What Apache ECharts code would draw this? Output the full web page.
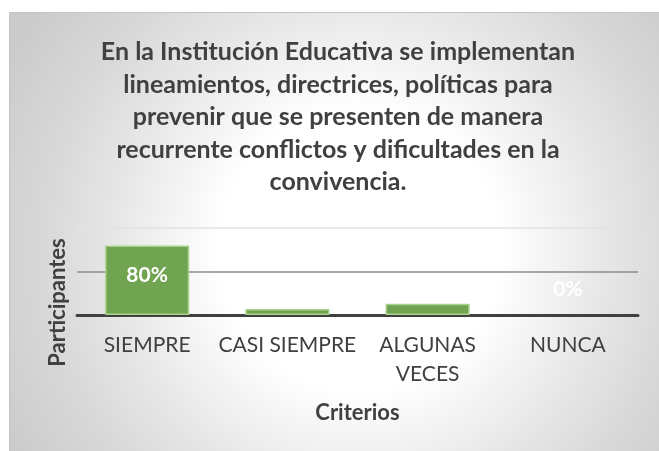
<!DOCTYPE html>
<html>
<head>
<meta charset="utf-8">
<script src="https://cdn.jsdelivr.net/npm/echarts@6/dist/echarts.min.js"></script>
<style>
html,body{margin:0;padding:0;background:#fff;}
#chart{width:659px;height:451px;}
</style>
</head>
<body>
<div id="chart"></div>
<script>
// datos
var titulo = "En la Institución Educativa se implementan\nlineamientos, directrices, políticas para\nprevenir que se presenten de manera\nrecurrente conflictos y dificultades en la\nconvivencia.";
var categorias = ["SIEMPRE", "CASI SIEMPRE", "ALGUNAS VECES", "NUNCA"];
var valores = [0.80, 0.07, 0.13, 0];
var yTicks = [0, 0.5, 1];

var fuente = "Lato, 'Open Sans', sans-serif";
var gris = "#404040";

// etiquetas: solo se ven en SIEMPRE y NUNCA
var etiquetas = [
	{ show: true, position: "inside", offset: [0, -5] },
	{ show: false },
	{ show: false },
	{ show: true, position: "top", distance: 15 }
];

var chart = echarts.init(document.getElementById("chart"));

chart.setOption({
	animation: false,
	graphic: [{
		type: "rect",
		silent: true,
		z: -10,
		shape: { x: 9.5, y: 12.5, width: 700, height: 500 },
		style: {
			fill: {
				type: "radial", x: 360, y: 250, r: 400, global: true,
				colorStops: [
					{ offset: 0, color: "#ffffff" },
					{ offset: 0.35, color: "#ffffff" },
					{ offset: 0.6, color: "#e8e8e8" },
					{ offset: 0.78, color: "#d9d9d9" },
					{ offset: 1, color: "#cbcbcb" }
				]
			},
			stroke: "#c4c4c4",
			lineWidth: 1
		}
	}],
	title: {
		text: titulo,
		left: 338,
		top: 36,
		padding: 0,
		textAlign: "center",
		textStyle: {
			fontFamily: fuente,
			fontSize: 25,
			fontWeight: "bold",
			color: gris,
			lineHeight: 32.5
		}
	},
	grid: { left: 77, right: 21, top: 228, bottom: 136, containLabel: false },
	xAxis: {
		type: "category",
		data: categorias,
		name: "Criterios",
		nameLocation: "middle",
		nameGap: 86,
		nameTextStyle: { fontFamily: fuente, fontSize: 22, fontWeight: "bold", color: gris, lineHeight: 24 },
		axisLine: { lineStyle: { color: "#404040", width: 3 } },
		axisTick: { show: false },
		axisLabel: {
			interval: 0,
			margin: 16,
			fontFamily: fuente,
			fontSize: 21,
			color: gris,
			lineHeight: 29,
			formatter: function (v) { return v.replace("ALGUNAS ", "ALGUNAS\n"); }
		}
	},
	yAxis: {
		type: "value",
		min: yTicks[0],
		max: yTicks[yTicks.length - 1],
		interval: yTicks[1] - yTicks[0],
		name: "Participantes",
		nameLocation: "middle",
		nameGap: 8,
		nameTextStyle: { fontFamily: fuente, fontSize: 22, fontWeight: "bold", color: gris, lineHeight: 22, padding: [0, 62, 0, 0] },
		axisLine: { show: false },
		axisTick: { show: false },
		axisLabel: { show: false },
		splitLine: { lineStyle: { color: ["#404040", "#8c8c8c", "#e2e2e2"], width: 1.5 } }
	},
	series: [{
		type: "bar",
		barWidth: "60%",
		data: valores.map(function (v, i) {
			return { value: v, label: etiquetas[i], itemStyle: v === 0 ? { borderWidth: 0 } : undefined };
		}),
		itemStyle: { color: "#70a451", borderColor: "#a9d18e", borderWidth: 1.5 },
		label: {
			fontFamily: fuente,
			fontSize: 21,
			fontWeight: "bold",
			color: "#ffffff",
			formatter: function (p) { return Math.round(p.value * 100) + "%"; }
		}
	}]
});
</script>
</body>
</html>
